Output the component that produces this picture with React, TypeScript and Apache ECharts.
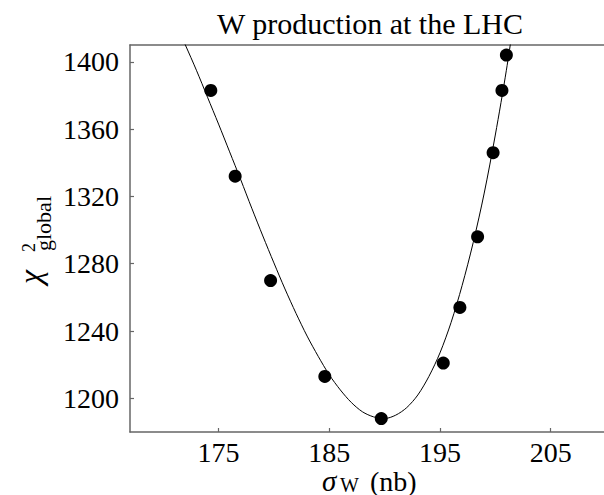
import React, { useEffect, useRef } from "react";
import * as echarts from "echarts";

// Measured points (sigma_W in nb, chi^2 global)
const pointX = [174.3, 176.5, 179.7, 184.6, 189.7, 195.3, 196.8, 198.4, 199.8, 200.6, 201.0];
const pointY = [1383, 1332, 1270, 1213, 1188, 1221, 1254, 1296, 1346, 1383, 1404];

// Fitted curve
const fitX = [171.5, 172, 173, 174, 175, 176, 177, 178, 179, 180, 181, 182, 183, 184, 185, 186, 187, 188, 189, 190, 191, 192, 193, 194, 195, 196, 197, 198, 199, 200, 201, 202];
const fitY = [1417, 1410, 1395, 1379, 1363, 1346.5, 1330, 1313, 1296.5, 1280.5, 1265, 1250.5, 1237, 1225, 1214, 1205, 1197.5, 1192, 1189, 1188, 1190, 1194.5, 1202, 1213, 1227, 1245, 1267, 1292.5, 1322, 1356.5, 1395, 1439];

const xTicks = [175, 185, 195, 205];
const yTicks = [1200, 1240, 1280, 1320, 1360, 1400];

const FONT = "'Liberation Serif', 'DejaVu Serif', serif";
const AXIS_COLOR = "#666";

export default function App() {
  const ref = useRef<HTMLDivElement>(null);
  useEffect(() => {
    const chart = echarts.init(ref.current!, null, { renderer: "svg" });
    chart.setOption({
      animation: false,
      backgroundColor: "#fff",
      grid: { left: 130, right: -2, top: 45, bottom: 63, containLabel: false, outerBoundsMode: "none" },
      xAxis: [
        {
          type: "value",
          min: 167,
          max: 210,
          position: "bottom",
          axisLine: { show: true, onZero: false, lineStyle: { color: AXIS_COLOR, width: 1.5 } },
          axisTick: { show: true, inside: true, length: 4, customValues: xTicks, lineStyle: { color: AXIS_COLOR, width: 1.2 } },
          axisLabel: { customValues: xTicks, fontSize: 28, lineHeight: 22, fontFamily: FONT, color: "#000", margin: 9, formatter: (v: number) => String(v) },
          splitLine: { show: false },
        },
        {
          type: "value",
          min: 167,
          max: 210,
          position: "top",
          axisLine: { show: true, onZero: false, lineStyle: { color: AXIS_COLOR, width: 1.5 } },
          axisTick: { show: false },
          axisLabel: { show: false },
          splitLine: { show: false },
        },
      ],
      yAxis: {
        type: "value",
        min: 1180,
        max: 1410,
        axisLine: { show: true, onZero: false, lineStyle: { color: AXIS_COLOR, width: 1.5 } },
        axisTick: { show: true, inside: true, length: 4, customValues: yTicks, lineStyle: { color: AXIS_COLOR, width: 1.2 } },
        axisLabel: { customValues: yTicks, fontSize: 28, fontFamily: FONT, color: "#000", margin: 11, formatter: (v: number) => String(v) },
        splitLine: { show: false },
      },
      graphic: [
        {
          type: "text",
          x: 370,
          y: 23,
          style: { text: "W production at the LHC", font: `30px ${FONT}`, fill: "#000", textAlign: "center", textVerticalAlign: "middle" },
        },
        {
          type: "group",
          x: 0,
          y: 0,
          children: [
            { type: "text", x: 322, y: 495, style: { text: "σ", font: `italic 29px ${FONT}`, fill: "#000", textAlign: "left", textVerticalAlign: "bottom" } },
            { type: "text", x: 340, y: 495, style: { text: "W", font: `20px ${FONT}`, fill: "#000", textAlign: "left", textVerticalAlign: "bottom" } },
            { type: "text", x: 370, y: 495, style: { text: "(nb)", font: `28px ${FONT}`, fill: "#000", textAlign: "left", textVerticalAlign: "bottom" } },
          ],
        },
        {
          type: "group",
          x: 30,
          y: 284,
          rotation: Math.PI / 2,
          children: [
            { type: "text", x: 0, y: 0, style: { text: "χ", font: `italic 32px ${FONT}`, fill: "#000", textAlign: "left", textVerticalAlign: "middle" } },
            { type: "text", x: 32, y: -1, style: { text: "2", font: `18px ${FONT}`, lineHeight: 14, fill: "#000", textAlign: "left", textVerticalAlign: "middle" } },
            { type: "text", x: 33, y: 13, style: { text: "global", font: `22px ${FONT}`, lineHeight: 16, fill: "#000", textAlign: "left", textVerticalAlign: "middle" } },
          ],
        },
      ],
      series: [
        {
          type: "line",
          data: fitX.map((x, i) => [x, fitY[i]]),
          showSymbol: false,
          smooth: 0.3,
          clip: true,
          lineStyle: { color: "#000", width: 1 },
          z: 2,
        },
        {
          type: "scatter",
          data: pointX.map((x, i) => [x, pointY[i]]),
          symbolSize: 13,
          itemStyle: { color: "#000", opacity: 1 },
          z: 3,
        },
      ],
    });
    return () => chart.dispose();
  }, []);
  return <div ref={ref} style={{ position: "fixed", left: 0, top: 0, width: 604, height: 495 }} />;
}
